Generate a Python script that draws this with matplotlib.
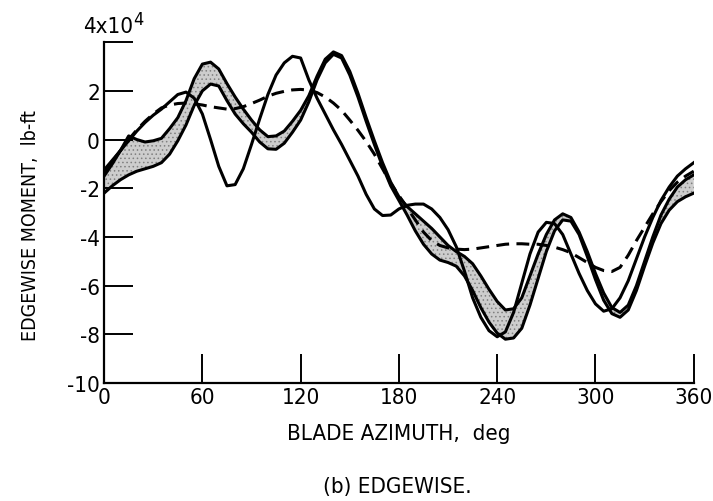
import matplotlib
matplotlib.use("Agg")
import matplotlib.pyplot as plt
from matplotlib import font_manager

# blade azimuth, deg
azimuth = list(range(0, 361, 5))

# edgewise moment, units of 10^4 lb-ft
dashed_curve = [-1.4, -0.9, -0.45, 0.0, 0.4, 0.75, 1.05, 1.3, 1.42, 1.48,
                1.5, 1.47, 1.42, 1.35, 1.3, 1.25, 1.27, 1.35, 1.48, 1.62,
                1.78, 1.9, 1.98, 2.04, 2.06, 2.03, 1.93, 1.75, 1.5, 1.2,
                0.8, 0.38, -0.08, -0.6, -1.2, -1.8, -2.3, -2.8, -3.3, -3.8,
                -4.15, -4.35, -4.45, -4.5, -4.52, -4.5, -4.45, -4.4, -4.35, -4.3,
                -4.28, -4.28, -4.3, -4.3, -4.35, -4.42, -4.52, -4.65, -4.85, -5.05,
                -5.25, -5.38, -5.42, -5.25, -4.75, -4.15, -3.6, -3.05, -2.55, -2.1,
                -1.75, -1.5, -1.3]

solid_curve = [-1.25, -0.85, -0.45, -0.05, 0.35, 0.7, 1.0, 1.25, 1.55, 1.85,
               1.95, 1.7, 1.05, 0.0, -1.1, -1.9, -1.85, -1.2, -0.2, 0.85,
               1.85, 2.65, 3.15, 3.42, 3.35, 2.45, 1.7, 1.05, 0.4, -0.2,
               -0.85, -1.5, -2.25, -2.85, -3.12, -3.1, -2.85, -2.7, -2.65, -2.65,
               -2.85, -3.2, -3.7, -4.4, -5.4, -6.5, -7.3, -7.85, -8.1, -7.9,
               -7.1, -5.9, -4.7, -3.8, -3.4, -3.45, -3.9, -4.7, -5.5, -6.2,
               -6.75, -7.05, -6.95, -6.5, -5.8, -4.9, -4.0, -3.2, -2.5, -1.95,
               -1.5, -1.2, -0.95]

band_upper = [-1.5, -1.0, -0.45, 0.15, 0.0, -0.1, -0.05, 0.05, 0.45, 0.9,
              1.6, 2.5, 3.1, 3.18, 2.9, 2.3, 1.75, 1.25, 0.8, 0.4,
              0.12, 0.15, 0.35, 0.75, 1.2, 1.8, 2.6, 3.3, 3.6, 3.45,
              2.8, 1.9, 0.9, -0.05, -0.95, -1.75, -2.35, -2.75, -3.05, -3.35,
              -3.65, -4.0, -4.35, -4.6, -4.8, -5.1, -5.6, -6.15, -6.65, -7.0,
              -6.95, -6.5, -5.6, -4.7, -3.9, -3.3, -3.05, -3.2, -3.8, -4.6,
              -5.5, -6.3, -6.9, -7.1, -6.8, -6.0, -5.0, -4.0, -3.1, -2.45,
              -1.95, -1.65, -1.45]

band_lower = [-2.2, -1.9, -1.65, -1.45, -1.3, -1.2, -1.1, -0.95, -0.6, -0.05,
              0.6, 1.4, 2.0, 2.28, 2.2, 1.6, 1.05, 0.65, 0.3, -0.1,
              -0.38, -0.4, -0.15, 0.3, 0.8, 1.55, 2.45, 3.15, 3.5, 3.35,
              2.65, 1.75, 0.75, -0.2, -1.1, -1.9, -2.5, -3.1, -3.75, -4.3,
              -4.7, -4.95, -5.05, -5.2, -5.6, -6.2, -6.9, -7.5, -7.95, -8.2,
              -8.15, -7.75, -6.8, -5.7, -4.6, -3.75, -3.3, -3.35, -3.9, -4.8,
              -5.75, -6.6, -7.15, -7.3, -7.0, -6.2, -5.2, -4.25, -3.45, -2.9,
              -2.55, -2.35, -2.2]

x_ticks = [0, 60, 120, 180, 240, 300, 360]
y_ticks = [-10, -8, -6, -4, -2, 0, 2, 4]
y_labels = ['-10', '-8', '-6', '-4', '-2', '0', '2', '']

# the original lettering is condensed, use a narrow face when one exists
names = set(f.name for f in font_manager.fontManager.ttflist)
dv_cond = any(f.name == 'DejaVu Sans' and f.stretch == 'condensed'
              for f in font_manager.fontManager.ttflist)
if 'Liberation Sans Narrow' in names:
    plt.rcParams['font.family'] = ['Liberation Sans Narrow', 'DejaVu Sans']
    fs = 17
elif dv_cond:
    plt.rcParams['font.family'] = ['DejaVu Sans']
    plt.rcParams['font.stretch'] = 'condensed'
    fs = 16
else:
    plt.rcParams['font.family'] = ['Roboto', 'DejaVu Sans']
    fs = 16
plt.rcParams['hatch.linewidth'] = 0.6

fig = plt.figure(figsize=(7.13, 5.02), dpi=100)
ax = fig.add_axes([0.146, 0.235, 0.827, 0.679])

ax.fill_between(azimuth, band_lower, band_upper, facecolor='#cdcdcd',
                hatch='....', edgecolor='#808080', linewidth=0)
ax.plot(azimuth, band_upper, color='black', lw=2.2, solid_joinstyle='round')
ax.plot(azimuth, band_lower, color='black', lw=2.2, solid_joinstyle='round')
ax.plot(azimuth, solid_curve, color='black', lw=2.2, solid_joinstyle='round')
ax.plot(azimuth, dashed_curve, color='black', lw=2.2, dashes=(4.2, 2.4))

ax.set_xlim(0, 360)
ax.set_ylim(-10, 4)
ax.spines['top'].set_visible(False)
ax.spines['right'].set_visible(False)
ax.spines['left'].set_linewidth(1.6)
ax.spines['bottom'].set_linewidth(1.6)

ax.set_xticks(x_ticks)
ax.set_yticks(y_ticks)
ax.set_yticklabels(y_labels)
ax.tick_params(direction='in', length=21, width=1.4, labelsize=fs, pad=3)

ax.text(17.5, 4.25, '4x10', fontsize=fs, ha='right', va='bottom', clip_on=False)
ax.text(18, 4.6, '4', fontsize=fs - 3, ha='left', va='bottom', clip_on=False)

ax.set_xlabel('BLADE AZIMUTH,  deg', fontsize=fs)
ax.xaxis.set_label_coords(0.5, -0.118)
ax.set_ylabel('EDGEWISE MOMENT,  lb-ft', fontsize=fs - 2)
ax.yaxis.set_label_coords(-0.108, 0.466)
fig.text(0.557, 0.03, '(b) EDGEWISE.', fontsize=fs, ha='center', va='center')

fig.savefig('out.png', dpi=100)
